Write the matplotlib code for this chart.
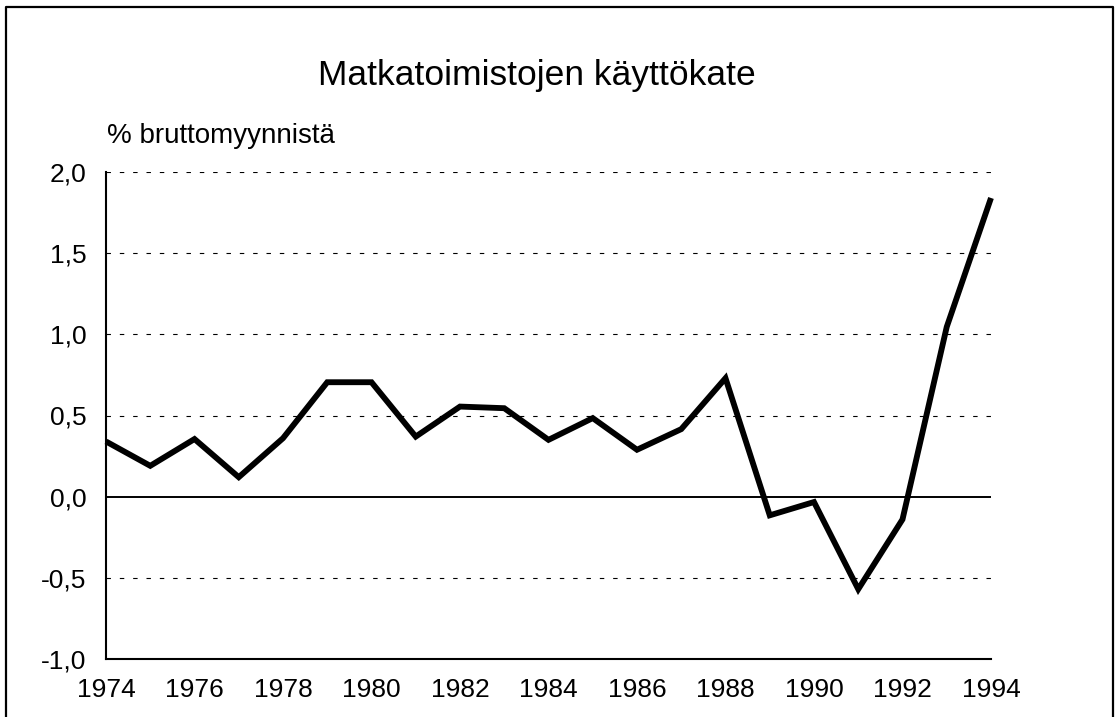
import matplotlib
matplotlib.use("Agg")
import matplotlib.pyplot as plt
from matplotlib.lines import Line2D

plt.rcParams['font.family'] = ['Liberation Sans', 'DejaVu Sans']

title = "Matkatoimistojen käyttökate"
unit_label = "% bruttomyynnistä"
years = list(range(1974, 1995))
values = [0.34, 0.19, 0.355, 0.12, 0.36, 0.705, 0.705, 0.37, 0.555, 0.545,
          0.35, 0.484, 0.289, 0.416, 0.73, -0.115, -0.033, -0.57, -0.14,
          1.046, 1.84]
xtick_vals = list(range(1974, 1995, 2))
xtick_labels = [str(y) for y in xtick_vals]
ytick_vals = [-1.0, -0.5, 0.0, 0.5, 1.0, 1.5, 2.0]
ytick_labels = ["-1,0", "-0,5", "0,0", "0,5", "1,0", "1,5", "2,0"]
grid_vals = [-0.5, 0.5, 1.0, 1.5, 2.0]

W, H = 1118, 717
fig = plt.figure(figsize=(W / 100, H / 100), dpi=100)
left, right, bottom, top = 106, 991, 659, 172
ax = fig.add_axes([left / W, 1 - bottom / H, (right - left) / W, (bottom - top) / H])

ax.set_xlim(1974, 1994)
ax.set_ylim(-1.0, 2.0)

for g in grid_vals:
    ax.axhline(g, color='black', lw=0.8, linestyle=(0, (4, 8)), zorder=1)
ax.axhline(0.0, color='black', lw=1.4, zorder=2)

ax.plot(years, values, color='black', lw=4.2, solid_joinstyle='miter',
        solid_capstyle='butt', clip_on=False, zorder=3)

ax.set_xticks(xtick_vals)
ax.set_xticklabels(xtick_labels)
ax.set_yticks(ytick_vals)
ax.set_yticklabels(ytick_labels)
ax.tick_params(axis='both', length=0, labelsize=19, pad=14)

for s in ['top', 'right']:
    ax.spines[s].set_visible(False)
for s in ['left', 'bottom']:
    ax.spines[s].set_linewidth(1.5)

fig.text(537 / W, 1 - 85 / H, title, ha='center', va='baseline', fontsize=25.5)
fig.text(107 / W, 1 - 143 / H, unit_label, ha='left', va='baseline', fontsize=20)

# outer frame
bx0, bx1, by0 = 6 / W, 1113 / W, 1 - 7 / H
frame = Line2D([bx0, bx0, bx1, bx1], [-0.05, by0, by0, -0.05],
               transform=fig.transFigure, color='black', lw=1.6)
fig.add_artist(frame)

fig.savefig("out.png", dpi=100)
